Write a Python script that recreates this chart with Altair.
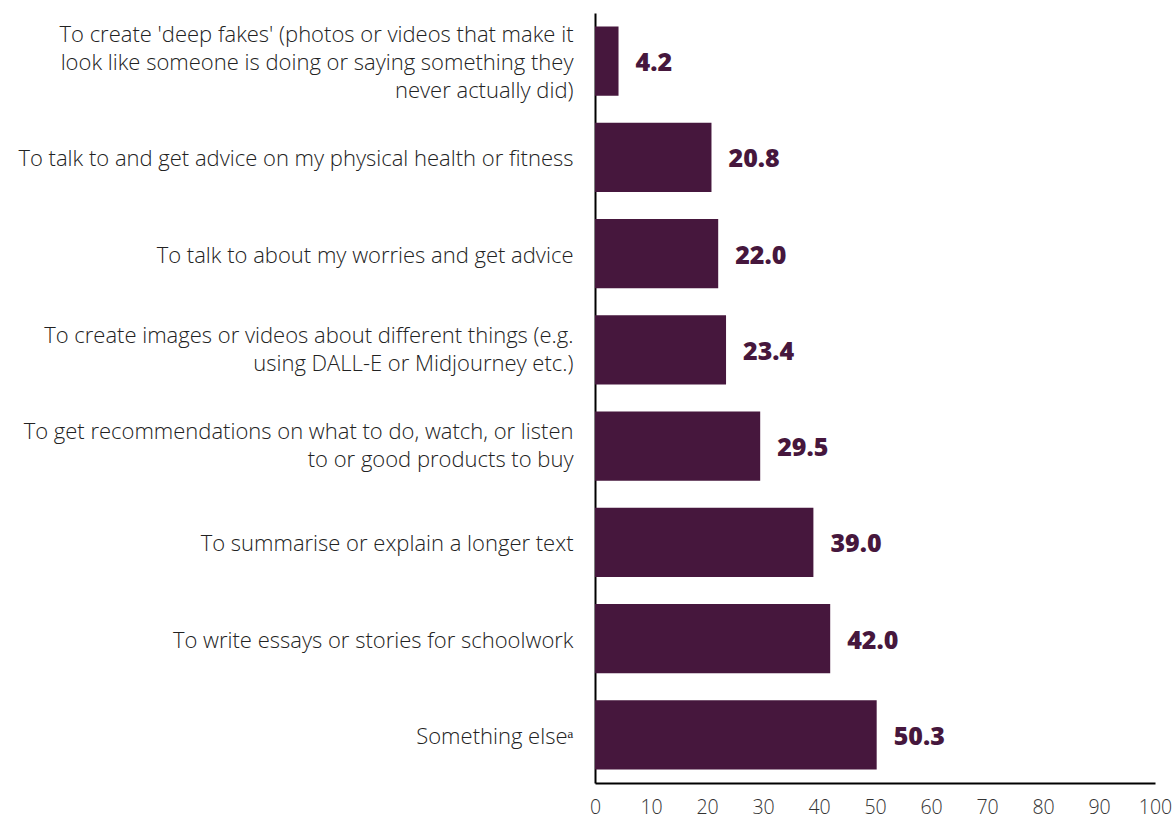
import altair as alt
import pandas as pd

categories = [
    "To create 'deep fakes' (photos or videos that make it\nlook like someone is doing or saying something they\nnever actually did)",
    "To talk to and get advice on my physical health or fitness",
    "To talk to about my worries and get advice",
    "To create images or videos about different things (e.g.\nusing DALL-E or Midjourney etc.)",
    "To get recommendations on what to do, watch, or listen\nto or good products to buy",
    "To summarise or explain a longer text",
    "To write essays or stories for schoolwork",
    "Something else\u1d43",
]
values = [4.2, 20.8, 22.0, 23.4, 29.5, 39.0, 42.0, 50.3]
x_ticks = [0, 10, 20, 30, 40, 50, 60, 70, 80, 90, 100]

df = pd.DataFrame({"category": categories, "value": values})
df["label"] = df["value"].map(lambda v: f"{v:.1f}")

color = "#46173D"
font = "Open Sans"
nlines = "length(split(datum.value, '\\n'))"

y_enc = alt.Y(
    "category:N",
    sort=categories,
    scale=alt.Scale(paddingInner=0.28, paddingOuter=0.14),
    axis=alt.Axis(
        title=None,
        labelExpr="split(datum.label, '\\n')",
        labelFont=font,
        labelFontSize=22,
        labelFontWeight=300,
        labelColor="#222222",
        labelLineHeight=28,
        labelPadding=22,
        labelLimit=700,
        labelOffset={
            "condition": [
                {"test": f"{nlines} == 3", "value": -26},
                {"test": f"{nlines} == 2", "value": -14},
            ],
            "value": 2,
        },
        ticks=False,
        domain=True,
        domainColor="black",
        domainWidth=2,
    ),
)
x_enc = alt.X(
    "value:Q",
    scale=alt.Scale(domain=[0, 100], nice=False),
    axis=alt.Axis(
        title=None,
        values=x_ticks,
        grid=False,
        ticks=False,
        labelFont=font,
        labelFontSize=19.5,
        labelFontWeight=300,
        labelColor="#333333",
        labelPadding=15,
        domainColor="black",
        domainWidth=2,
        labelFlush=False,
    ),
)

bars = alt.Chart(df).mark_bar(color=color).encode(y=y_enc, x=x_enc)
texts = alt.Chart(df).mark_text(
    align="left", baseline="middle", dx=17, dy=2,
    font=font, fontSize=25, fontWeight=800, color=color,
).encode(y=alt.Y("category:N", sort=categories), x="value:Q", text="label:N")

chart = (bars + texts).properties(
    width=560, height=770,
    autosize=alt.AutoSizeParams(type="none"),
    padding={"left": 595, "top": 13, "right": 21, "bottom": 38},
).configure_view(stroke=None)

chart.save("out.html", embed_options={"renderer": "svg", "actions": False})
